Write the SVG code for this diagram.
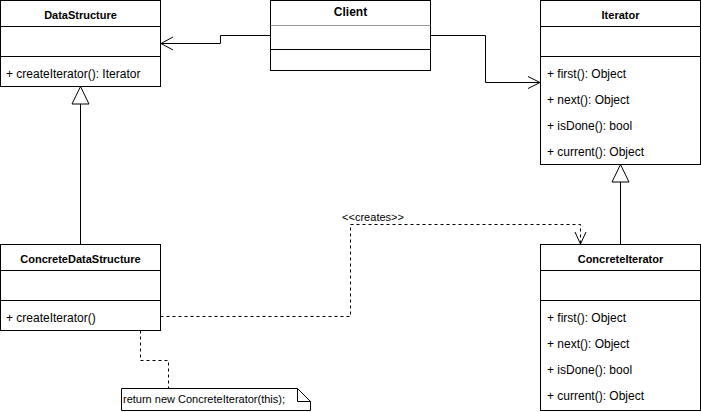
<svg xmlns="http://www.w3.org/2000/svg" width="701" height="412" viewBox="0 0 701 412">
<style>
text{font-family:"Liberation Sans",Arial,Helvetica,sans-serif;fill:#000}
.t{font-size:11px;font-weight:bold;text-anchor:middle}
.ct{font-size:12px;font-weight:bold;text-anchor:middle}
.m{font-size:12px}
.s{font-size:11px}
.box{fill:#fff;stroke:#000;stroke-width:1}
.sep{stroke:#000;stroke-width:1}
.ln{fill:none;stroke:#000;stroke-width:1}
.dash{fill:none;stroke:#000;stroke-width:1;stroke-dasharray:3 3}
</style>
<g id="connectors">
<path class="ln" d="M270.5,35.5 H220.5 V43.5 H161"/>
<path class="ln" d="M173,37 L161,43.5 L173,50"/>
<path class="ln" d="M430.5,35.5 H485.5 V82.5 H540"/>
<path class="ln" d="M528,76.5 L540,82.5 L528,88.5"/>
<path class="ln" d="M80.5,244.5 V104"/>
<polygon class="box" points="80.5,86.5 72,104 89,104"/>
<path class="ln" d="M620.5,244.5 V182"/>
<polygon class="box" points="620.5,164.5 612,182 629,182"/>
<path class="dash" d="M160.5,316.5 H350.5 V224.5 H580.5 V244"/>
<path class="ln" d="M575,232 L580.5,244 L586,232"/>
<text class="s" x="342" y="221" textLength="62">&lt;&lt;creates&gt;&gt;</text>
<path class="dash" d="M140.5,330.5 V360.5 H168.5 V388.5"/>
</g>
<g id="DataStructure">
<rect class="box" x="0.5" y="0.5" width="160" height="86"/>
<line class="sep" x1="0.5" y1="26.5" x2="160.5" y2="26.5"/>
<line class="sep" x1="0.5" y1="56.5" x2="160.5" y2="56.5"/>
<text class="t" x="80.5" y="19">DataStructure</text>
<text class="m" x="6" y="78">+ createIterator(): Iterator</text>
</g>
<g id="Client">
<rect class="box" x="270.5" y="0.5" width="160" height="70"/>
<line x1="270.5" y1="25.5" x2="430.5" y2="25.5" stroke="#999" stroke-width="1"/>
<line class="sep" x1="270.5" y1="49.5" x2="430.5" y2="49.5"/>
<text class="ct" x="350.5" y="16">Client</text>
</g>
<g id="Iterator">
<rect class="box" x="540.5" y="0.5" width="160" height="164"/>
<line class="sep" x1="540.5" y1="26.5" x2="700.5" y2="26.5"/>
<line class="sep" x1="540.5" y1="56.5" x2="700.5" y2="56.5"/>
<text class="t" x="620.5" y="19">Iterator</text>
<text class="m" x="547" y="78">+ first(): Object</text>
<text class="m" x="547" y="104">+ next(): Object</text>
<text class="m" x="547" y="130">+ isDone(): bool</text>
<text class="m" x="547" y="156">+ current(): Object</text>
</g>
<g id="ConcreteDataStructure">
<rect class="box" x="0.5" y="244.5" width="160" height="86"/>
<line class="sep" x1="0.5" y1="270.5" x2="160.5" y2="270.5"/>
<line class="sep" x1="0.5" y1="300.5" x2="160.5" y2="300.5"/>
<text class="t" x="80.5" y="263">ConcreteDataStructure</text>
<text class="m" x="6" y="322">+ createIterator()</text>
</g>
<g id="ConcreteIterator">
<rect class="box" x="540.5" y="244.5" width="160" height="166"/>
<line class="sep" x1="540.5" y1="270.5" x2="700.5" y2="270.5"/>
<line class="sep" x1="540.5" y1="300.5" x2="700.5" y2="300.5"/>
<text class="t" x="620.5" y="263">ConcreteIterator</text>
<text class="m" x="547" y="322">+ first(): Object</text>
<text class="m" x="547" y="348">+ next(): Object</text>
<text class="m" x="547" y="374">+ isDone(): bool</text>
<text class="m" x="547" y="400">+ current(): Object</text>
</g>
<g id="Note">
<path class="box" d="M121.5,388.5 H297.5 L310.5,401.5 V410.5 H121.5 Z"/>
<path class="ln" d="M297.5,388.5 V401.5 H310.5"/>
<text class="s" x="123" y="403">return new ConcreteIterator(this);</text>
</g>
</svg>
